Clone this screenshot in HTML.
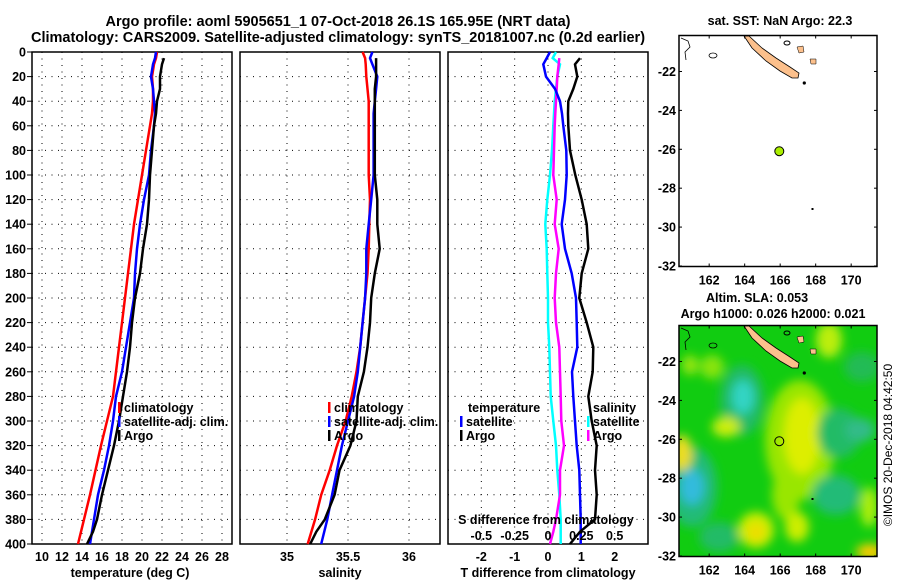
<!DOCTYPE html>
<html><head><meta charset="utf-8">
<style>
html,body{margin:0;padding:0;background:#fff;}
svg{display:block;font-family:"Liberation Sans",Arial,sans-serif;}
.t{font-weight:bold;font-size:14.5px;fill:#000;}
.l{font-weight:bold;font-size:12.5px;fill:#000;}
</style></head>
<body>
<svg id="fig" width="900" height="580" viewBox="0 0 900 580" xmlns="http://www.w3.org/2000/svg">
<defs>
<filter id="blur" x="-20%" y="-20%" width="140%" height="140%"><feGaussianBlur stdDeviation="5"/></filter>
<clipPath id="mapclip"><rect x="679" y="325.5" width="198" height="231"/></clipPath>
</defs>
<text class="t" x="338" y="26" text-anchor="middle">Argo profile: aoml 5905651_1 07-Oct-2018 26.1S 165.95E (NRT data)</text>
<text class="t" x="338" y="42" text-anchor="middle">Climatology: CARS2009. Satellite-adjusted climatology: synTS_20181007.nc (0.2d earlier)</text>
<g id="charts"></g>
<g id="maps"></g>
<text x="892" y="445" font-size="12" text-anchor="middle" transform="rotate(-90 892 445)">©IMOS 20-Dec-2018 04:42:50</text>
</svg>
<script>
// ---- data ----
const argoDepth = [5,10,20,30,40,50,60,80,100,120,140,160,180,200,220,240,260,280,300,320,340,360,380,390,400];
const argoTemp = [22.2,22.0,21.8,21.8,21.5,21.4,21.2,21.0,20.8,20.7,20.5,20.1,19.8,19.3,19.0,18.8,18.5,18.1,17.7,17.2,16.6,16.0,15.5,15.1,14.5];
const argoSal = [35.73,35.73,35.73,35.72,35.72,35.72,35.72,35.72,35.72,35.74,35.74,35.76,35.72,35.69,35.68,35.66,35.63,35.58,35.57,35.52,35.43,35.39,35.31,35.24,35.19];
const argoTDiff = [0.96,0.81,0.88,0.76,0.61,0.6,0.61,0.66,0.82,1.01,1.16,1.21,1.01,0.94,1.16,1.36,1.34,1.21,1.31,1.46,1.41,1.46,1.41,0.96,0.66];
const argoSDiff = [0.085,0.08,0.07,0.065,0.06,0.055,0.05,0.045,0.04,0.065,0.05,0.08,0.06,0.05,0.06,0.085,0.09,0.095,0.1,0.12,0.09,0.09,0.06,0.04,0.015];
const climDepth = [0,5,10,20,30,40,50,60,80,100,120,140,160,180,200,220,240,260,280,300,320,340,360,380,400];
const climTemp = [21.5,21.4,21.2,21.0,21.1,21.1,21.0,20.8,20.4,20.0,19.6,19.2,18.9,18.6,18.3,18.0,17.7,17.4,17.1,16.5,15.9,15.35,14.8,14.2,13.6];
const climSal = [35.62,35.64,35.645,35.65,35.66,35.67,35.67,35.67,35.67,35.67,35.68,35.675,35.67,35.66,35.64,35.62,35.6,35.57,35.53,35.48,35.41,35.35,35.28,35.23,35.17];
const satTemp = [21.4,21.3,21.1,20.9,21.1,21.2,21.3,21.2,20.9,20.7,20.2,19.8,19.5,19.3,19.2,18.8,18.4,18.0,17.4,17.1,16.7,16.2,15.6,15.2,14.8];
const satSal = [35.70,35.68,35.70,35.74,35.73,35.72,35.71,35.71,35.71,35.71,35.69,35.67,35.65,35.65,35.64,35.62,35.6,35.58,35.55,35.5,35.45,35.41,35.37,35.33,35.28];
const satTDiff = [0.06,-0.04,-0.14,-0.06,0.21,0.36,0.42,0.46,0.55,0.56,0.51,0.41,0.51,0.71,0.84,0.86,0.88,0.72,0.76,0.81,0.86,0.94,0.96,0.98,0.98];
const satSDiff = [0.06,0.035,0.09,0.07,0.06,0.05,0.045,0.04,0.03,0.015,-0.005,-0.02,-0.01,-0.005,0,0,0.01,0.015,0.02,0.04,0.06,0.07,0.085,0.095,0.095];
const depthTicks = [0,20,40,60,80,100,120,140,160,180,200,220,240,260,280,300,320,340,360,380,400];
const tempTicks = [10,12,14,16,18,20,22,24,26,28];
const salTicks = [35,35.5,36];
const tDiffTicks = [-2,-1,0,1,2];
const sDiffTicks = [-0.5,-0.25,0,0.25,0.5];
const sDiffTickLabels = ["-0.5","-0.25","0","0.25","0.5"];

const NS = "http://www.w3.org/2000/svg";
function mk(tag, attrs, parent){const e=document.createElementNS(NS,tag);for(const k in attrs)e.setAttribute(k,attrs[k]);parent.appendChild(e);return e;}
const charts = document.getElementById('charts');
const Y0=52, Y1=544;
const yScale = d => Y0 + d*(Y1-Y0)/400;
const panels = [
  {name:'temperature-panel', x0:32, x1:232, v0:9, v1:29},
  {name:'salinity-panel', x0:240, x1:440, v0:35-(287-240)/122, v1:35+(440-287)/122},
  {name:'difference-panel', x0:448, x1:648, v0:-3, v1:3}
];
function xs(p,v){return p.x0+(v-p.v0)*(p.x1-p.x0)/(p.v1-p.v0);}
const sP = {x0:448,x1:648,v0:-0.75,v1:0.75};

panels.forEach((p,i)=>{
  const g = mk('g',{},charts);
  
  
  depthTicks.forEach(d=>{
    const y=yScale(d);
    if(d>0&&d<400){const gl=mk('line',{x1:p.x0,x2:p.x1,y1:y,y2:y,stroke:'#000','stroke-width':1,'stroke-dasharray':'1,5.5'},g);
      
      }
    if(i===0){
      const tk=mk('line',{x1:27,x2:p.x0,y1:y,y2:y,stroke:'#000','stroke-width':1},g);
      
      
      const t=mk('text',{x:26,y:y+4.5,'text-anchor':'end',class:'l'},g);
      t.textContent=d;
      
      
    }
  });
  const ticks = i===0?tempTicks:(i===1?salTicks:tDiffTicks);
  ticks.forEach(v=>{
    const x=xs(p,v);
    const gl=mk('line',{x1:x,x2:x,y1:Y0,y2:Y1,stroke:'#000','stroke-width':1,'stroke-dasharray':'1,5.5'},g);
    
    
    const t=mk('text',{x:x,y:561,'text-anchor':'middle',class:'l'},g);
    t.textContent=v;
    
    
  });
  const fr=mk('rect',{x:p.x0,y:Y0,width:p.x1-p.x0,height:Y1-Y0,fill:'none',stroke:'#000','stroke-width':1.5},g);
  
  
});

function series(p, depths, vals, color, name){
  const pts = depths.map((d,k)=>xs(p,vals[k]).toFixed(1)+','+yScale(d).toFixed(1)).join(' ');
  const l = mk('polyline',{points:pts,fill:'none',stroke:color,'stroke-width':2.5,'stroke-linejoin':'miter'},charts);
  
  
}
const P=panels;
series(P[0],climDepth,climTemp,'#ff0000','clim-temperature-line');
series(P[0],climDepth,satTemp,'#0000ff','satellite-temperature-line');
series(P[0],argoDepth,argoTemp,'#000','argo-temperature-line');
series(P[1],climDepth,climSal,'#ff0000','clim-salinity-line');
series(P[1],climDepth,satSal,'#0000ff','satellite-salinity-line');
series(P[1],argoDepth,argoSal,'#000','argo-salinity-line');
series(sP,climDepth,satSDiff,'#00ffff','satellite-salinity-diff-line');
series(sP,argoDepth,argoSDiff,'#ff00ff','argo-salinity-diff-line');
series(P[2],climDepth,satTDiff,'#0000ff','satellite-temperature-diff-line');
series(P[2],argoDepth,argoTDiff,'#000','argo-temperature-diff-line');

sDiffTicks.forEach((v,k)=>{
  const t=mk('text',{x:xs(sP,v),y:540,'text-anchor':'middle',class:'l'},charts);
  t.textContent=sDiffTickLabels[k];
  
  
});
function txt(x,y,s,name,anchor){const t=mk('text',{x:x,y:y,'text-anchor':anchor||'start',class:'l'},charts);t.textContent=s;
  
  return t;}
txt(546,524,'S difference from climatology','s-diff-axis-title','middle');
txt(130,577,'temperature (deg C)','x-axis-title-temperature','middle');
txt(340,577,'salinity','x-axis-title-salinity','middle');
txt(548,577,'T difference from climatology','x-axis-title-tdiff','middle');

function legend(x,y,color,label,name){
  const r=mk('rect',{x:x,y:y-10,width:2.5,height:11,fill:color},charts);
  
  
  txt(x+6,y,label,name);
}
legend(118,412,'#ff0000','climatology','legend-climatology');
legend(118,426,'#0000ff','satellite-adj. clim.','legend-satellite-adj');
legend(118,440,'#000','Argo','legend-argo');
legend(328,412,'#ff0000','climatology','legend-climatology-sal');
legend(328,426,'#0000ff','satellite-adj. clim.','legend-satellite-adj-sal');
legend(328,440,'#000','Argo','legend-argo-sal');
txt(468,412,'temperature','legend-temperature-header');
legend(460,426,'#0000ff','satellite','legend-t-satellite');
legend(460,440,'#000','Argo','legend-t-argo');
txt(593,412,'salinity','legend-salinity-header');
legend(587,426,'#00ffff','satellite','legend-s-satellite');
legend(587,440,'#ff00ff','Argo','legend-s-argo');

// ---- maps ----
const maps=document.getElementById('maps');
const mapLatTicks=[-22,-24,-26,-28,-30,-32];
const mapLonTicks=[162,164,166,168,170];
const lonX = lon => 679 + (lon-160.3)*17.75;
const latY = (lat,top) => top + (-20.15-lat)*19.45;
function drawMap(top, name, filled){
  const g=mk('g',{},maps);
  
  
  if(filled){
    const bg=mk('g',{'clip-path':'url(#mapclip)'},g);
    mk('rect',{x:679,y:top,width:198,height:231,fill:'#11cc11'},bg);
    const bl=mk('g',{filter:'url(#blur)'},bg);
    const blobs=[
      [742,400,22,35,'#22bb66'],[743,397,11,17,'#33d4c4'],
      [692,487,25,40,'#22bb77'],[692,487,12,18,'#33bbdd'],
      [800,440,35,60,'#99e600'],[802,436,18,38,'#ddee00'],
      [726,427,14,10,'#ccee11'],[682,453,10,18,'#eedd22'],
      [756,530,18,18,'#ccee00'],[756,532,9,9,'#eedd00'],
      [870,552,14,8,'#ffcc00'],[839,433,22,25,'#22bb66'],
      [836,495,24,20,'#22bb77'],[829,340,13,18,'#bbee11'],
      [862,367,18,15,'#22bb55'],[712,367,12,12,'#88e411'],
      [786,495,14,25,'#99e600'],[797,527,12,15,'#ccee00'],
      [869,507,9,20,'#aaee11'],[719,537,20,15,'#22bb66'],
      [690,365,8,10,'#99e611'],[860,430,15,12,'#33bb88']];
    blobs.forEach(b=>mk('ellipse',{cx:b[0],cy:b[1]-325.5+top,rx:b[2],ry:b[3],fill:b[4]},bl));
  }
  const dy=top-35.5;
  const nc=[[744,36],[749,36],[762,48],[776,58],[790,67],[799,73],[798,78],[792,78],[780,71],[766,61],[752,48]];
  const isl=mk('polygon',{points:nc.map(p=>p[0]+','+(p[1]+dy)).join(' '),fill:'#fcc08c',stroke:'#000','stroke-width':0.8},g);
  
  
  mk('polygon',{points:`797,${47+dy} 803,${46+dy} 804,${52+dy} 799,${53+dy}`,fill:'#fcc08c',stroke:'#000','stroke-width':0.5},g);
  mk('polygon',{points:`810,${59+dy} 816,${59+dy} 816,${64+dy} 811,${64+dy}`,fill:'#fcc08c',stroke:'#000','stroke-width':0.5},g);
  mk('polyline',{points:`681,${38+dy} 688,${41+dy} 690,${47+dy} 685,${52+dy} 686,${60+dy}`,fill:'none',stroke:'#000','stroke-width':0.8},g);
  mk('ellipse',{cx:713,cy:55.5+dy,rx:4,ry:2.5,fill:'none',stroke:'#000','stroke-width':0.8},g);
  mk('ellipse',{cx:787,cy:43+dy,rx:3,ry:2,fill:'none',stroke:'#000','stroke-width':1},g);
  mk('circle',{cx:804.3,cy:83+dy,r:1.6,fill:'#000'},g);
  mk('rect',{x:811.5,y:208+dy,width:2,height:2,fill:'#000'},g);
  const pos=mk('circle',{cx:lonX(165.95),cy:latY(-26.1,top),r:4.5,fill:filled?'none':'#aaee00',stroke:'#000','stroke-width':1},g);
  
  
  const fr=mk('rect',{x:679,y:top,width:198,height:231,fill:'none',stroke:'#000','stroke-width':1.5},g);
  
  
  mapLatTicks.forEach(lat=>{
    const y=latY(lat,top);
    mk('line',{x1:679,x2:682,y1:y,y2:y,stroke:'#000'},g);
    mk('line',{x1:874,x2:877,y1:y,y2:y,stroke:'#000'},g);
    const t=mk('text',{x:676,y:y+4.5,'text-anchor':'end',class:'l'},g);
    t.textContent=lat;
    
    
  });
  mapLonTicks.forEach(lon=>{
    const x=lonX(lon);
    mk('line',{x1:x,x2:x,y1:top,y2:top+3,stroke:'#000'},g);
    mk('line',{x1:x,x2:x,y1:top+228,y2:top+231,stroke:'#000'},g);
    const t=mk('text',{x:x,y:top+249,'text-anchor':'middle',class:'l'},g);
    t.textContent=lon;
    
    
  });
}
drawMap(35.5,'sst-map',false);
drawMap(325.5,'sla-map',true);
function mtxt(x,y,s,name){const t=mk('text',{x:x,y:y,'text-anchor':'middle',class:'l'},maps);t.textContent=s;
  
  }
mtxt(780,25,'sat. SST: NaN Argo: 22.3','sst-map-title');
mtxt(757,302,'Altim. SLA: 0.053','sla-map-title');
mtxt(773,318,'Argo h1000: 0.026 h2000: 0.021','sla-map-subtitle');
</script>
</body></html>
